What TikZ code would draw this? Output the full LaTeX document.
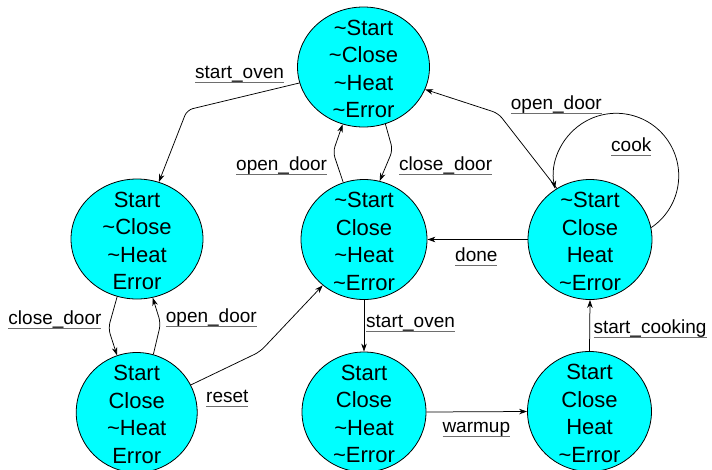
\documentclass[tikz,border=0pt]{standalone}
\usepackage{fontspec}
\setmainfont{Liberation Sans}
\usetikzlibrary{shapes.geometric,arrows.meta}
\definecolor{stcyan}{RGB}{0,255,255}
\definecolor{ulgray}{RGB}{110,110,110}
\newcommand{\ulabel}[1]{\setbox0\hbox{#1}\rlap{\color{ulgray}\rule[-4.5pt]{\wd0}{0.9pt}}\box0}
\begin{document}
\begin{tikzpicture}[x=1pt,y=1pt,
  state/.style={ellipse,draw=black,line width=0.8pt,fill=stcyan,inner sep=0pt,minimum height=120pt},
  sttext/.style={font=\fontsize{22}{27.5}\selectfont,align=center,inner sep=0pt,yshift=-2pt},
  edge/.style={draw=black,line width=0.75pt,-{Stealth[length=8pt,width=5.5pt,inset=2.5pt]},rounded corners=6pt},
  lbl/.style={font=\fontsize{19}{23}\selectfont,inner sep=0pt,anchor=base west}]
\path[use as bounding box] (0,0) rectangle (712,-469);

\node[state,minimum width=132pt,label={[sttext]center:{\textasciitilde Start\\\textasciitilde Close\\\textasciitilde Heat\\\textasciitilde Error}}] (s0) at (363.5,-67) {};
\node[state,minimum width=132pt,label={[sttext]center:{Start\\\textasciitilde Close\\\textasciitilde Heat\\Error}}] (s1) at (137,-239) {};
\node[state,minimum width=126pt,label={[sttext]center:{\textasciitilde Start\\Close\\\textasciitilde Heat\\\textasciitilde Error}}] (s2) at (364,-239.5) {};
\node[state,minimum width=124pt,label={[sttext]center:{\textasciitilde Start\\Close\\Heat\\\textasciitilde Error}}] (s3) at (590,-239.5) {};
\node[state,minimum width=121pt,label={[sttext]center:{Start\\Close\\\textasciitilde Heat\\Error}}] (s4) at (136.7,-412.5) {};
\node[state,minimum width=124pt,label={[sttext]center:{Start\\Close\\\textasciitilde Heat\\\textasciitilde Error}}] (s5) at (364,-412) {};
\node[state,minimum width=124pt,label={[sttext]center:{Start\\Close\\Heat\\\textasciitilde Error}}] (s6) at (589.5,-411.5) {};

\draw[edge] (s0.194) -- (187,-110) -- (s1.69);
\draw[edge] (s2.110) -- (333,-152) -- (s0.250);
\draw[edge] (s0.291) -- (392.7,-150) -- (s2.75);
\draw[edge] (s3.123) -- (498.3,-113.3) -- (s0.340);
\draw[edge] (s3.11) arc[start angle=-56, end angle=192, radius=62.5];
\draw[edge] (s3.west) -- (s2.east);
\draw[edge] (s2.south) -- (s5.north);
\draw[edge] (s5.east) -- (s6.west);
\draw[edge] (s6.north) -- (s3.south);
\draw[edge] (s1.251) -- (108.3,-328.3) -- (s4.109);
\draw[edge] (s4.74) -- (160.7,-323.3) -- (s1.285);
\draw[edge] (s4.27) -- (260,-351.7) -- (s2.228);

\node[lbl] (l1) at (195,-78) {\ulabel{start\_oven}};
\node[lbl] (l2) at (236,-170) {\ulabel{open\_door}};
\node[lbl] (l3) at (399,-170) {\ulabel{close\_door}};
\node[lbl] (l4) at (510.7,-109) {\ulabel{open\_door}};
\node[lbl] (l5) at (611,-151) {\ulabel{cook}};
\node[lbl] (l6) at (455,-261) {\ulabel{done}};
\node[lbl] (l7) at (366,-327) {\ulabel{start\_oven}};
\node[lbl] (l8) at (442.3,-432.5) {\ulabel{warmup}};
\node[lbl] (l9) at (593.3,-333) {\ulabel{start\_cooking}};
\node[lbl] (l10) at (8.3,-324) {\ulabel{close\_door}};
\node[lbl] (l11) at (165.7,-322.5) {\ulabel{open\_door}};
\node[lbl] (l12) at (206,-402.5) {\ulabel{reset}};
\end{tikzpicture}
\end{document}
